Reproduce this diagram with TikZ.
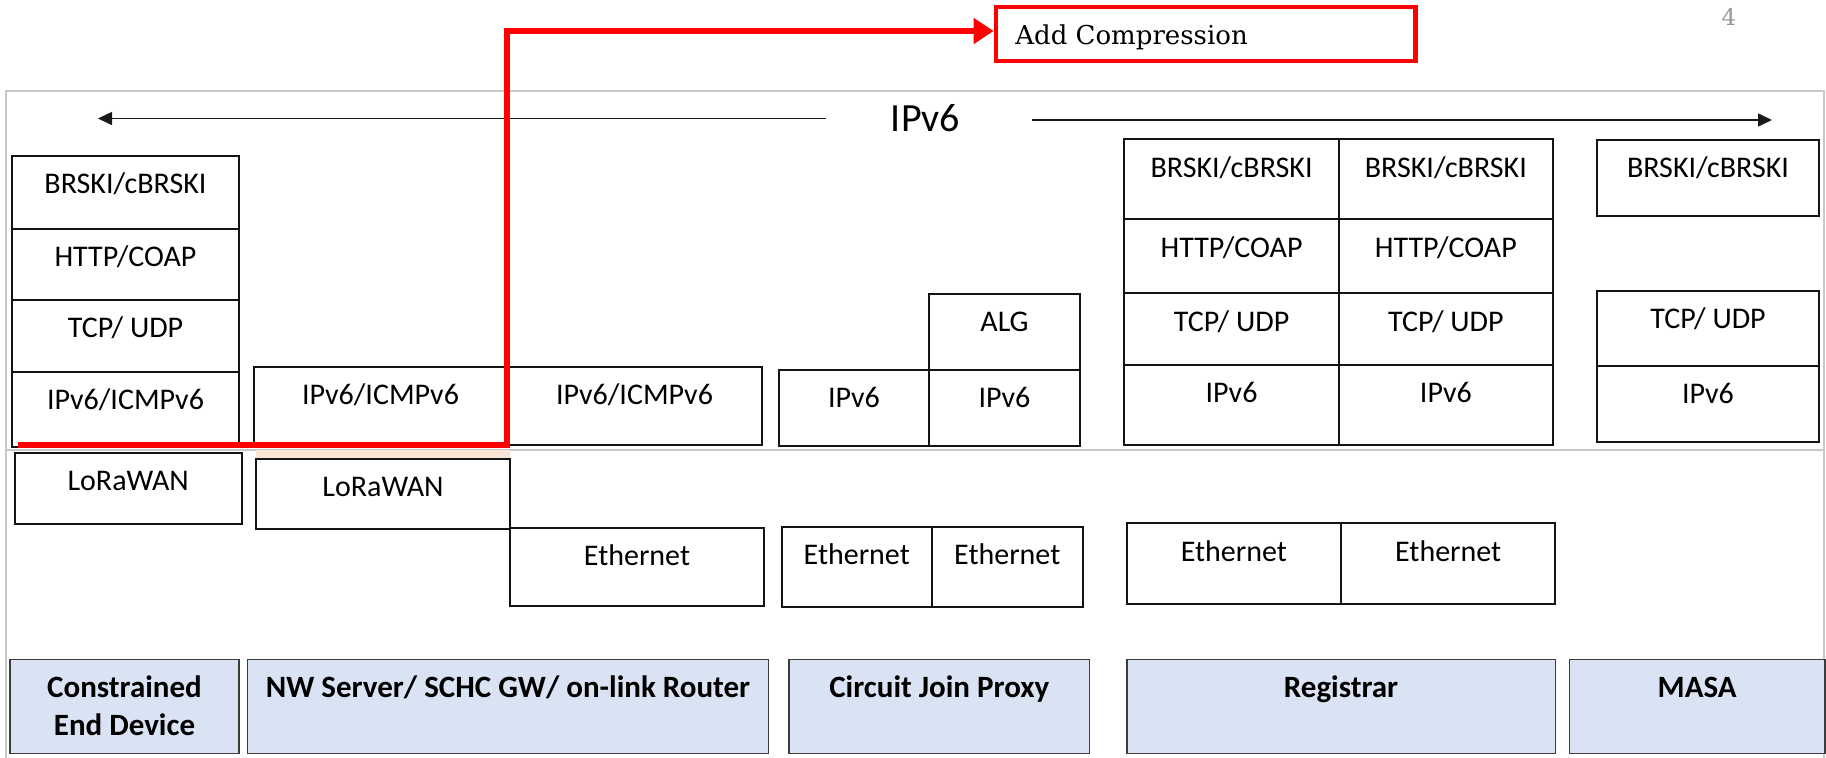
\documentclass[tikz,border=0pt]{standalone}
\usepackage{fontspec}
\setmainfont{Carlito}
\newfontfamily\serifA{DejaVu Serif}
\usetikzlibrary{arrows.meta}
\definecolor{lblue}{RGB}{218,227,243}
\definecolor{peach}{RGB}{251,229,214}
\definecolor{framegray}{RGB}{200,200,200}
\definecolor{pred}{RGB}{255,0,0}
\definecolor{boxline}{RGB}{20,20,20}
\definecolor{botline}{RGB}{60,60,60}
\definecolor{pagegray}{RGB}{150,150,150}
\tikzset{
  lyrbox/.style={draw=boxline, line width=1pt, inner sep=0pt, outer sep=0pt},
  lyrtext/.style={anchor=base, inner sep=0pt, font=\fontsize{15pt}{18pt}\selectfont},
  botbox/.style={draw=botline, fill=lblue, line width=0.8pt, inner sep=0pt, outer sep=0pt},
  bottext/.style={anchor=base, inner sep=0pt, font=\fontsize{15.5pt}{19pt}\selectfont\bfseries},
  ipvarrow/.style={draw=black!90, line width=0.75pt, -{Triangle[length=7pt,width=6.5pt]}},
  redline/.style={draw=pred, line width=3.4pt, line join=miter, -{Triangle[length=10pt,width=12.5pt]}},
}
\newcommand{\mklayer}[6]{%
  \node[lyrbox, minimum width={(#4-#2)*0.5pt}, minimum height={(#5-#3)*0.5pt}] (#1) at ({(#2+#4)/2},{(#3+#5)/2}) {};
  \node[lyrtext] (#1t) at ([yshift=-19pt]#1.north) {#6};
}
\newcommand{\mkbottom}[6]{%
  \node[botbox, minimum width={(#4-#2)*0.5pt}, minimum height={(#5-#3)*0.5pt}] (#1) at ({(#2+#4)/2},{(#3+#5)/2}) {};
  \node[bottext] (#1t) at ([yshift=-19pt]#1.north) {#6};
}
\begin{document}
\begin{tikzpicture}[x=0.5pt,y=-0.5pt]
\useasboundingbox (0,0) rectangle (1826,758);
% frame
\draw[framegray, line width=0.8pt] (6,780) |- (1824,91) -- (1824,780);
\draw[framegray, line width=0.8pt] (6,450) -- (1824,450);
\fill[peach] (256,450) rectangle (510,459);

% IPv6 header
\node[anchor=base, inner sep=0pt, font=\fontsize{20pt}{24pt}\selectfont] (ipv6) at (925.5,132) {IPv6};
\coordinate (a1s) at (826,118.5);
\coordinate (a1e) at (98,118.5);
\coordinate (a2s) at (1032,120);
\coordinate (a2e) at (1772,120);
\draw[ipvarrow] (a1s) -- (a1e);
\draw[ipvarrow] (a2s) -- (a2e);

% Constrained end device
\mklayer{ced1}{12}{156}{239}{229}{BRSKI/cBRSKI}
\mklayer{ced2}{12}{229}{239}{300}{HTTP/COAP}
\mklayer{ced3}{12}{300}{239}{372}{TCP/ UDP}
\mklayer{ced4}{12}{372}{239}{447}{IPv6/ICMPv6}
\mklayer{ced5}{14.6}{452.7}{241.7}{524.3}{LoRaWAN}

% NW server
\mklayer{nw1}{254}{367}{507}{445}{IPv6/ICMPv6}
\mklayer{nw2}{507}{367}{762}{445}{IPv6/ICMPv6}
\mklayer{nw3}{256}{459}{510}{529}{LoRaWAN}
\mklayer{nw4}{510}{528}{764}{606}{Ethernet}

% Circuit join proxy
\mklayer{cjp1}{779}{370}{929}{446}{IPv6}
\mklayer{cjp2}{929}{294}{1080}{370}{ALG}
\mklayer{cjp3}{929}{370}{1080}{446}{IPv6}
\mklayer{cjp4}{781.5}{527}{932}{607}{Ethernet}
\mklayer{cjp5}{932}{527}{1082.5}{607}{Ethernet}

% Registrar
\mklayer{rga1}{1124.4}{139.3}{1338.7}{219.3}{BRSKI/cBRSKI}
\mklayer{rga2}{1124.4}{219.3}{1338.7}{293.3}{HTTP/COAP}
\mklayer{rga3}{1124.4}{293.3}{1338.7}{365}{TCP/ UDP}
\mklayer{rga4}{1124.4}{365}{1338.7}{445}{IPv6}
\mklayer{rgb1}{1338.7}{139.3}{1553}{219.3}{BRSKI/cBRSKI}
\mklayer{rgb2}{1338.7}{219.3}{1553}{293.3}{HTTP/COAP}
\mklayer{rgb3}{1338.7}{293.3}{1553}{365}{TCP/ UDP}
\mklayer{rgb4}{1338.7}{365}{1553}{445}{IPv6}
\mklayer{rge1}{1126.7}{523.3}{1341}{604}{Ethernet}
\mklayer{rge2}{1341}{523.3}{1555.4}{604}{Ethernet}

% MASA
\mklayer{ms1}{1597}{140}{1819}{215.7}{BRSKI/cBRSKI}
\mklayer{ms2}{1597}{290.7}{1819}{366}{TCP/ UDP}
\mklayer{ms3}{1597}{366}{1819}{441.7}{IPv6}

% bottom labels
\mkbottom{b1}{10}{659.5}{239}{753.5}{\begin{tabular}[t]{@{}c@{}}Constrained\\End Device\end{tabular}}
\mkbottom{b2}{247.5}{659.5}{768.6}{753.5}{NW Server/ SCHC GW/ on-link Router}
\mkbottom{b3}{789}{659.5}{1089.5}{753.5}{Circuit Join Proxy}
\mkbottom{b4}{1126.7}{659.5}{1555.4}{753.5}{Registrar}
\mkbottom{b5}{1569.4}{659.5}{1825}{753.5}{MASA}

% Add compression
\node[draw=pred, line width=2.4pt, inner sep=0pt, minimum width=209.8pt, minimum height=27pt] (addc) at (1205.8,34) {};
\node[anchor=base west, inner sep=0pt, font=\serifA\fontsize{13pt}{15pt}\selectfont] (addct) at (1015,45) {Add Compression};
\coordinate (rs) at (18,445);
\coordinate (rc) at (507,31);
\draw[redline] (rs) -| (rc) -- (rc -| addc.west);

% page number
\node[anchor=base, inner sep=0pt, text=pagegray, font=\serifA\fontsize{11.5pt}{13pt}\selectfont] (pnum) at (1729,26) {4};
\end{tikzpicture}
\end{document}
